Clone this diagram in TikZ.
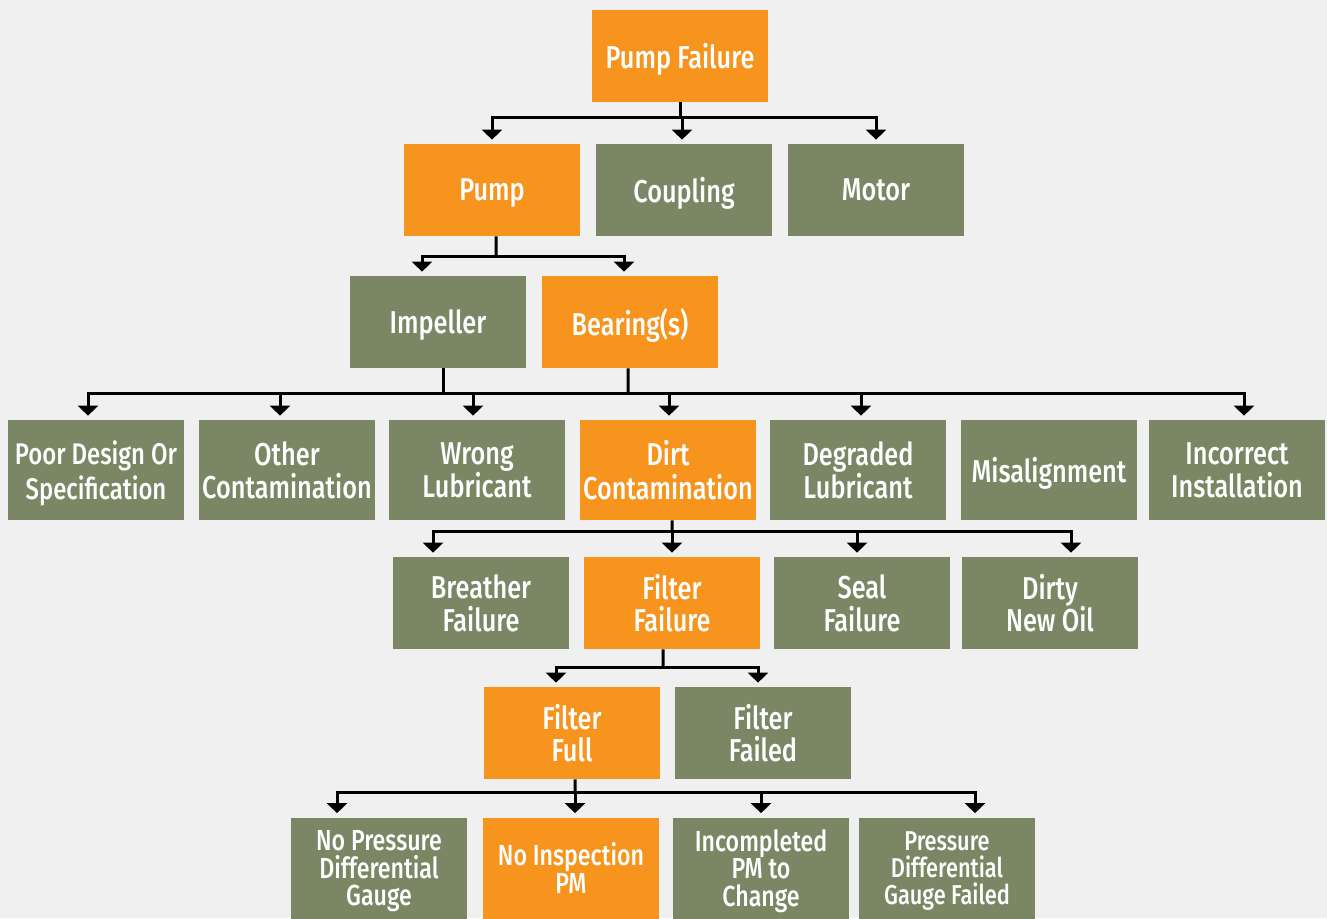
\documentclass[tikz,border=0pt]{standalone}
\usepackage{fontspec}
\usepackage{tikz}
\usetikzlibrary{arrows.meta, positioning}
\newfontfamily\boxfont[FakeStretch=0.8]{Fira Sans Medium}
\newfontfamily\lastfont[FakeStretch=0.8]{Fira Sans Medium}
\definecolor{bgrey}{RGB}{240,240,240}
\definecolor{failorange}{RGB}{247,148,29}
\definecolor{causegreen}{RGB}{123,134,100}
\tikzset{
    % cause boxes
    cbox/.style={rectangle, fill=#1, text=white, minimum width=3.52cm, minimum height=1.84cm,
                inner sep=0pt, text depth=0pt, align=center, font=\boxfont\fontsize{18}{18.5}\selectfont},
    obox/.style={cbox=failorange},
    gbox/.style={cbox=causegreen},
    % middle row is a bit taller
    mbox/.style={cbox=#1, minimum height=2cm, font=\boxfont\fontsize{18}{19}\selectfont},
    % last row
    lbox/.style={cbox=#1, minimum height=2.02cm, font=\lastfont\fontsize{16.5}{15.5}\selectfont},
    % connectors
    bline/.style={line width=0.06cm, black},
    larrow/.style={-{Triangle[width=0.4cm, length=0.2cm]}, line width=0.06cm, black, shorten >=0.08cm},
}
\begin{document}
\begin{tikzpicture}[x=0.02cm, y=-0.02cm]
\fill[bgrey] (0,0) rectangle (1327,918);
% level 1-3
\node[obox] (pf) at (680,56) {Pump Failure};
\node[obox] (pump) at (492,190) {Pump};
\node[gbox] (coup) at (684,190) {Coupling};
\node[gbox] (motor) at (876,190) {Motor};
\node[gbox] (imp) at (438,322) {Impeller};
\node[obox] (bear) at (630,322) {Bearing(s)};
% level 4
\node[mbox=causegreen, font=\boxfont\fontsize{17}{19.5}\selectfont] (poor) at (96,470) {Poor Design Or\\Specification};
\node[mbox=causegreen] (other) at (287,470) {Other\\Contamination};
\node[mbox=causegreen] (wrong) at (477,470) {Wrong\\Lubricant};
\node[mbox=failorange] (dirt) at (668,470) {Dirt\\Contamination};
\node[mbox=causegreen] (degr) at (858,470) {Degraded\\Lubricant};
\node[mbox=causegreen] (misal) at (1049,470) {Misalignment};
\node[mbox=causegreen] (inst) at (1237,470) {Incorrect\\Installation};
% level 5
\node[gbox] (breath) at (481,603) {Breather\\Failure};
\node[obox] (filt) at (672,603) {Filter\\Failure};
\node[gbox] (seal) at (862,603) {Seal\\Failure};
\node[gbox] (dirty) at (1050,603) {Dirty\\New Oil};
% level 6
\node[obox] (full) at (572,733) {Filter\\Full};
\node[gbox] (ffail) at (763,733) {Filter\\Failed};
% level 7
\node[lbox=causegreen] (nogauge) at (379,868) {No Pressure\\Differential\\Gauge};
\node[lbox=failorange] (nopm) at (571,868) {No Inspection\\PM};
\node[lbox=causegreen] (incpm) at (761,868) {Incompleted\\PM to\\Change};
\node[lbox=causegreen, font=\lastfont\fontsize{15.5}{15.5}\selectfont] (gfail) at (947,868) {Pressure\\Differential\\Gauge Failed};
% bus points
\coordinate (b1) at (680,118);
\coordinate (b2) at (496,256);
\coordinate (b3) at (628,393);
\coordinate (b4) at (672,531);
\coordinate (b5) at (663,667);
\coordinate (b6) at (575,792);
% connectors
\draw[bline] (pf) -- (b1);
\draw[larrow] (b1) -| (pump);
\draw[larrow] (b1) -| ([xshift=-0.04cm]coup.north);
\draw[larrow] (b1) -| (motor);
\draw[bline] ([xshift=0.08cm]pump.south) -- (b2);
\draw[larrow] (b2) -| ([xshift=-0.32cm]imp.north);
\draw[larrow] (b2) -| ([xshift=-0.12cm]bear.north);
\draw[bline] ([xshift=0.1cm]imp.south) -- ++(0,25);
\draw[bline] ([xshift=-0.04cm]bear.south) -- (b3);
\draw[larrow] (b3) -| ([xshift=-0.16cm]poor.north);
\draw[larrow] (b3) -| ([xshift=-0.14cm]other.north);
\draw[larrow] (b3) -| ([xshift=-0.08cm]wrong.north);
\draw[larrow] (b3) -| ([xshift=0.02cm]dirt.north);
\draw[larrow] (b3) -| ([xshift=0.06cm]degr.north);
\draw[larrow] (b3) -| ([xshift=0.14cm]inst.north);
\draw[bline] ([xshift=0.08cm]dirt.south) -- (b4);
\draw[larrow] (b4) -| ([xshift=-0.96cm]breath.north);
\draw[larrow] (b4) -| (filt);
\draw[larrow] (b4) -| ([xshift=-0.1cm]seal.north);
\draw[larrow] (b4) -| ([xshift=0.42cm]dirty.north);
\draw[bline] ([xshift=-0.18cm]filt.south) -- (b5);
\draw[larrow] (b5) -| ([xshift=-0.32cm]full.north);
\draw[larrow] (b5) -| ([xshift=-0.1cm]ffail.north);
\draw[bline] ([xshift=0.06cm]full.south) -- (b6);
\draw[larrow] (b6) -| ([xshift=-0.84cm]nogauge.north);
\draw[larrow] (b6) -| ([xshift=0.08cm]nopm.north);
\draw[larrow] (b6) -| (incpm);
\draw[larrow] (b6) -| ([xshift=0.56cm]gfail.north);
\end{tikzpicture}
\end{document}
